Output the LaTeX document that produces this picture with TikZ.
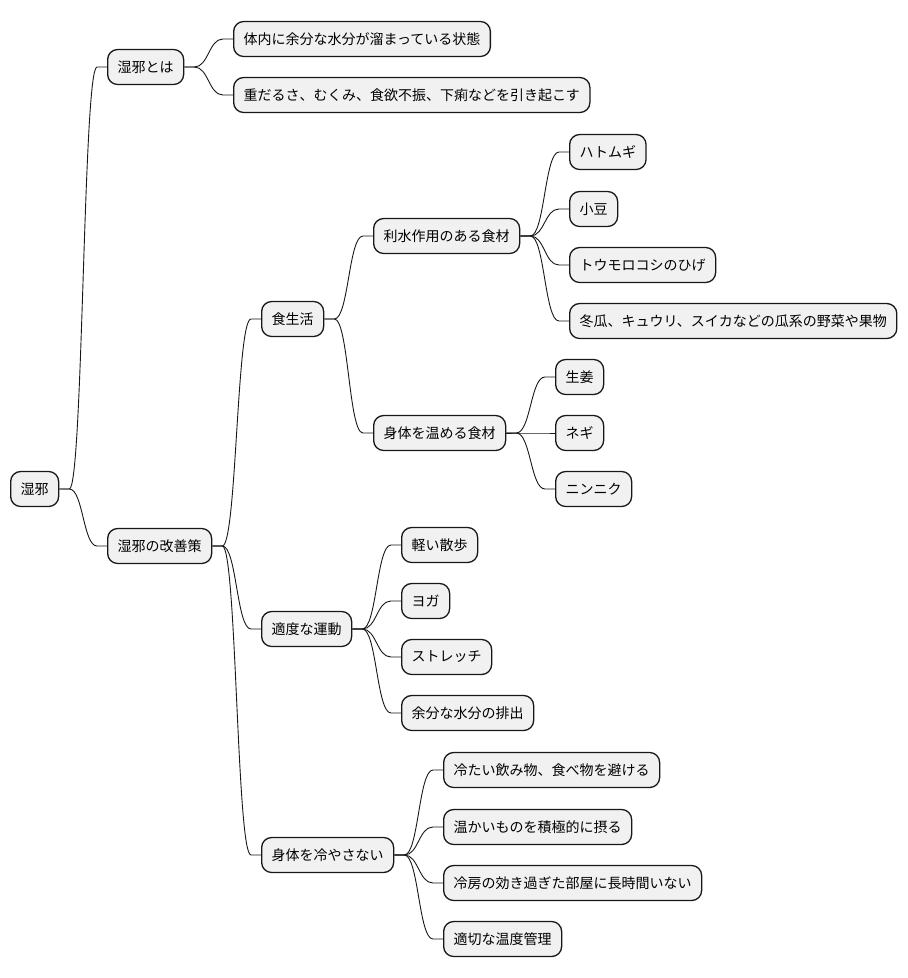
\documentclass[tikz,border=0pt]{standalone}
\usepackage{fontspec}
\setmainfont{Noto Sans CJK JP}
\usetikzlibrary{calc}
\definecolor{boxfill}{HTML}{F1F1F1}
\definecolor{boxline}{HTML}{181818}
\tikzset{
  mmbox/.style={draw=boxline, fill=boxfill, line width=1.3pt, rounded corners=10pt,
    minimum height=35pt, inner xsep=10pt, inner ysep=0pt, anchor=west,
    font=\fontsize{14pt}{16pt}\selectfont, text=black},
  conn/.style={draw=boxline, line width=0.9pt}
}
\newcommand\conn[2]{%
  \path (#1.east) ++(10pt,0) coordinate (ca) (#2.west) ++(-10pt,0) coordinate (cb);
  \path ($(ca)!0.5!(cb)$) coordinate (cm);
  \draw[conn] (#1.east) -- (ca) .. controls (cm |- ca) and (cm |- cb) .. (cb) -- (#2.west);}
\begin{document}
\begin{tikzpicture}[x=1pt,y=-1pt]
\useasboundingbox (0,0) rectangle (908,978);
\node[mmbox] (root) at (10,489) {湿邪};
\node[mmbox] (a) at (107,67) {湿邪とは};
\node[mmbox] (a1) at (233,39) {体内に余分な水分が溜まっている状態};
\node[mmbox] (a2) at (233,95) {重だるさ、むくみ、食欲不振、下痢などを引き起こす};
\node[mmbox] (b) at (107,546) {湿邪の改善策};
\node[mmbox] (b1) at (261,319) {食生活};
\node[mmbox] (b11) at (373,236) {利水作用のある食材};
\node[mmbox] (b111) at (569,152) {ハトムギ};
\node[mmbox] (b112) at (569,209) {小豆};
\node[mmbox] (b113) at (569,265) {トウモロコシのひげ};
\node[mmbox] (b114) at (569,321) {冬瓜、キュウリ、スイカなどの瓜系の野菜や果物};
\node[mmbox] (b12) at (373,433) {身体を温める食材};
\node[mmbox] (b121) at (555,377) {生姜};
\node[mmbox] (b122) at (555,433) {ネギ};
\node[mmbox] (b123) at (555,489) {ニンニク};
\node[mmbox] (b2) at (261,629) {適度な運動};
\node[mmbox] (b21) at (401,545) {軽い散歩};
\node[mmbox] (b22) at (401,601) {ヨガ};
\node[mmbox] (b23) at (401,657) {ストレッチ};
\node[mmbox] (b24) at (401,713) {余分な水分の排出};
\node[mmbox] (b3) at (261,855) {身体を冷やさない};
\node[mmbox] (b31) at (443,770) {冷たい飲み物、食べ物を避ける};
\node[mmbox] (b32) at (443,827) {温かいものを積極的に摂る};
\node[mmbox] (b33) at (443,883) {冷房の効き過ぎた部屋に長時間いない};
\node[mmbox] (b34) at (443,939) {適切な温度管理};
\conn{root}{a}
\conn{root}{b}
\conn{a}{a1}
\conn{a}{a2}
\conn{b}{b1}
\conn{b}{b2}
\conn{b}{b3}
\conn{b1}{b11}
\conn{b1}{b12}
\conn{b11}{b111}
\conn{b11}{b112}
\conn{b11}{b113}
\conn{b11}{b114}
\conn{b12}{b121}
\conn{b12}{b122}
\conn{b12}{b123}
\conn{b2}{b21}
\conn{b2}{b22}
\conn{b2}{b23}
\conn{b2}{b24}
\conn{b3}{b31}
\conn{b3}{b32}
\conn{b3}{b33}
\conn{b3}{b34}
\end{tikzpicture}
\end{document}
